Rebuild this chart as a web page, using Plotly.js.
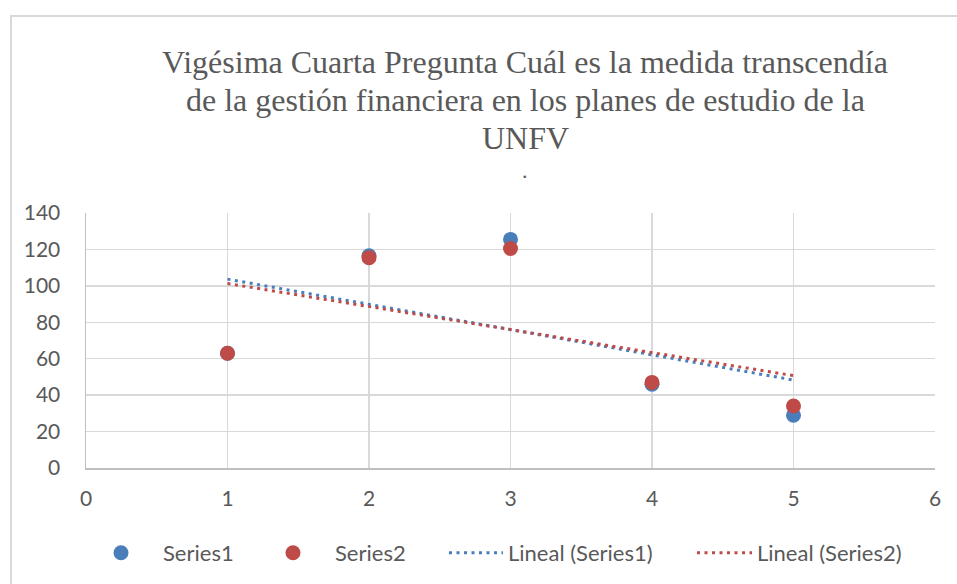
<!DOCTYPE html>
<html>
<head>
<meta charset="utf-8">
<script src="https://cdn.plot.ly/plotly-3.0.1.min.js"></script>
<style>
html,body{margin:0;padding:0;background:#fff;}
#frame{position:absolute;left:10px;top:15px;width:947px;height:580px;border-left:2px solid #d9d9d9;border-top:2px solid #d9d9d9;box-sizing:border-box;}
#chart{position:absolute;left:0;top:0;width:957px;height:584px;}
</style>
</head>
<body>
<div id="frame"></div>
<div id="chart"></div>
<script>
const xValues = [1, 2, 3, 4, 5];
const series1 = [63, 116.5, 125.5, 46, 29];
const series2 = [63, 115.5, 120.5, 47, 34];
const seriesNames = ["Series1", "Series2"];
const trendNames = ["Lineal (Series1)", "Lineal (Series2)"];
const titleLines = [
  "Vigésima Cuarta Pregunta Cuál es la medida transcendía",
  "de la gestión financiera en los planes de estudio de la",
  "UNFV",
  "."
];
const blue = "#4a7ebb";
const red = "#be4b48";

function linFit(xs, ys) {
  const n = xs.length;
  const mx = xs.reduce((a, b) => a + b, 0) / n;
  const my = ys.reduce((a, b) => a + b, 0) / n;
  let sxy = 0, sxx = 0;
  for (let i = 0; i < n; i++) { sxy += (xs[i] - mx) * (ys[i] - my); sxx += (xs[i] - mx) * (xs[i] - mx); }
  const m = sxy / sxx, b = my - m * mx;
  const x0 = xs[0], x1 = xs[n - 1];
  return { x: [x0, x1], y: [m * x0 + b, m * x1 + b] };
}
const t1 = linFit(xValues, series1);
const t2 = linFit(xValues, series2);

const dotDash = "3px,4.5px";
const data = [
  { x: xValues, y: series1, name: seriesNames[0], type: "scatter", mode: "markers",
    marker: { color: blue, size: 15 }, legend: "legend" },
  { x: xValues, y: series2, name: seriesNames[1], type: "scatter", mode: "markers",
    marker: { color: red, size: 15 }, legend: "legend2" },
  { x: t1.x, y: t1.y, name: trendNames[0], type: "scatter", mode: "lines",
    line: { color: blue, width: 3, dash: dotDash }, legend: "legend3" },
  { x: t2.x, y: t2.y, name: trendNames[1], type: "scatter", mode: "lines",
    line: { color: red, width: 3, dash: dotDash }, legend: "legend4" }
];

const sansFam = "Lato";
const tickFont = { family: sansFam, size: 21, color: "#595959" };
const legFont = { family: sansFam, size: 22, color: "#595959" };

function leg(xpx, iw) {
  return {
    orientation: "h", xref: "container", x: xpx / 957, xanchor: "left",
    yref: "container", y: 1 - 553 / 584, yanchor: "middle",
    font: legFont, itemwidth: iw, bgcolor: "rgba(0,0,0,0)"
  };
}

// title lines as annotations (tighter line spacing than Plotly's title)
const plotTop = 213, plotBottom = 468, plotLeft = 86, plotRight = 935;
const titleCentersPx = [62, 100, 138, 170];
const titleSizes = [32, 32, 32, 22];
const titleAnnotations = titleLines.map((t, i) => ({
  text: t, showarrow: false,
  xref: "paper", yref: "paper",
  x: (525 - plotLeft) / (plotRight - plotLeft),
  y: (plotBottom - titleCentersPx[i]) / (plotBottom - plotTop),
  xanchor: "center", yanchor: "middle",
  font: { family: "Liberation Serif", size: titleSizes[i], color: "#595959" }
}));

const layout = {
  width: 957, height: 584,
  font: { family: sansFam, color: "#595959" },
  paper_bgcolor: "rgba(0,0,0,0)",
  plot_bgcolor: "rgba(0,0,0,0)",
  margin: { l: plotLeft, r: 957 - plotRight, t: plotTop, b: 584 - plotBottom },
  showlegend: true,
  annotations: titleAnnotations,
  xaxis: {
    range: [0, 6], dtick: 1, tick0: 0,
    showgrid: true, gridcolor: "#d9d9d9", gridwidth: 1.5,
    zeroline: false, showline: true, linecolor: "#bfbfbf", linewidth: 1.5,
    ticks: "", tickfont: tickFont, ticklabelstandoff: 11,
    fixedrange: true
  },
  yaxis: {
    range: [0, 140], dtick: 20, tick0: 0,
    showgrid: true, gridcolor: "#d9d9d9", gridwidth: 1.5,
    zeroline: false, showline: true, linecolor: "#bfbfbf", linewidth: 1.5,
    ticks: "", tickfont: tickFont, ticklabelstandoff: 20,
    fixedrange: true
  },
  legend: leg(79, 74),
  legend2: leg(251, 74),
  legend3: leg(444, 54),
  legend4: leg(692, 55)
};

Plotly.newPlot("chart", data, layout, { displayModeBar: false, staticPlot: true });
</script>
</body>
</html>
